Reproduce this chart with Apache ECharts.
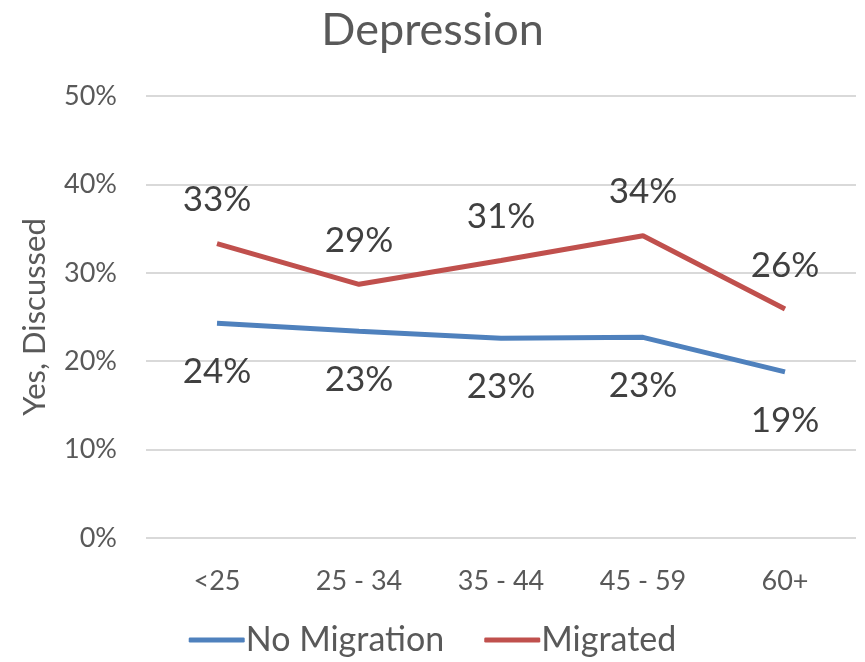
<!DOCTYPE html>
<html>
<head>
<meta charset="utf-8">
<script src="https://cdn.jsdelivr.net/npm/echarts@6/dist/echarts.min.js"></script>
<style>
  html, body { margin: 0; padding: 0; background: #fff; }
  #chart { width: 865px; height: 662px; }
</style>
</head>
<body>
<div id="chart"></div>
<script>
const ageGroups = ['<25', '25 - 34', '35 - 44', '45 - 59', '60+'];
const noMigration = [24.3, 23.4, 22.6, 22.7, 18.8];
const migrated = [33.3, 28.7, 31.4, 34.2, 25.9];

const font = 'Lato, "Open Sans", sans-serif';
const myChart = echarts.init(document.getElementById('chart'));

const pct = function (p) {
    return Math.round(p.value) + '%';
};

myChart.setOption({
    animation: false,
    textStyle: { fontFamily: font },
    title: {
        text: 'Depression',
        left: 'center',
        top: 3,
        textStyle: { fontFamily: font, fontSize: 45, fontWeight: 'normal', color: '#595959' }
    },
    legend: {
        bottom: 0,
        left: 'center',
        itemWidth: 56,
        itemHeight: 5,
        itemGap: 40,
        icon: 'roundRect',
        textStyle: { fontFamily: font, fontSize: 34, color: '#595959', padding: [0, 0, 0, -4] },
        data: ['No Migration', 'Migrated']
    },
    grid: { left: 146, right: 9, top: 96, bottom: 124 },
    xAxis: {
        type: 'category',
        data: ageGroups,
        axisLine: { show: false },
        axisTick: { show: false },
        axisLabel: { margin: 30, fontFamily: font, fontSize: 27, color: '#595959' }
    },
    yAxis: {
        type: 'value',
        min: 0,
        max: 50,
        interval: 10,
        name: 'Yes, Discussed',
        nameLocation: 'middle',
        nameGap: 96,
        nameTextStyle: { fontFamily: font, fontSize: 31, color: '#595959' },
        axisLabel: { margin: 29, fontFamily: font, fontSize: 27, color: '#595959', formatter: '{value}%' },
        splitLine: { lineStyle: { color: '#D9D9D9', width: 2 } }
    },
    series: [
        {
            name: 'No Migration',
            type: 'line',
            data: noMigration,
            symbol: 'circle',
            symbolSize: 0,
            lineStyle: { color: '#4F81BD', width: 5 },
            itemStyle: { color: '#4F81BD' },
            label: {
                show: true,
                position: 'bottom',
                distance: 31,
                formatter: pct,
                fontFamily: font,
                fontSize: 35,
                color: '#404040'
            }
        },
        {
            name: 'Migrated',
            type: 'line',
            data: migrated,
            symbol: 'circle',
            symbolSize: 0,
            lineStyle: { color: '#C0504D', width: 5 },
            itemStyle: { color: '#C0504D' },
            label: {
                show: true,
                position: 'top',
                distance: 26,
                formatter: pct,
                fontFamily: font,
                fontSize: 35,
                color: '#404040'
            }
        }
    ]
});
</script>
</body>
</html>
